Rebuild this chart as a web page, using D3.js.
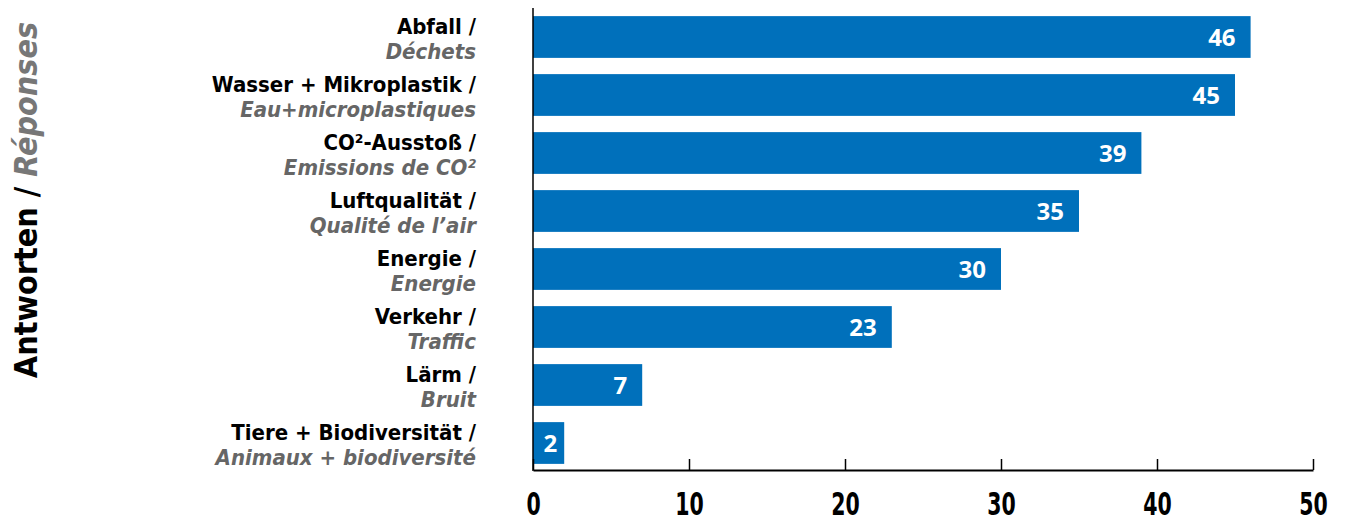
<!DOCTYPE html>
<html>
<head>
<meta charset="utf-8">
<script src="https://cdn.jsdelivr.net/npm/d3@7"></script>
<style>
  body { margin: 0; background: #fff; }
  svg { display: block; }
  .bold { font-family: "DejaVu Sans", sans-serif; font-weight: bold; }
  .cond { font-family: "DejaVu Sans Condensed", "DejaVu Sans", sans-serif; font-weight: bold; }
</style>
</head>
<body>
<svg id="chart" width="1345" height="523"></svg>
<script>
// Categories (German / French) and answer counts
const labelsDe = ["Abfall /", "Wasser + Mikroplastik /", "CO²-Ausstoß /", "Luftqualität /",
                  "Energie /", "Verkehr /", "Lärm /", "Tiere + Biodiversität /"];
const labelsFr = ["Déchets", "Eau+microplastiques", "Emissions de CO²", "Qualité de l’air",
                  "Energie", "Traffic", "Bruit", "Animaux + biodiversité"];
const answers = [46, 45, 39, 35, 30, 23, 7, 2];
const xTicks = [0, 10, 20, 30, 40, 50];

const svg = d3.select("#chart");
const blue = "#0070bb";

const x = d3.scaleLinear().domain([0, 50]).range([533, 1313]);
const y = d3.scaleBand()
    .domain(d3.range(answers.length))
    .range([8, 472])
    .paddingInner(0.28)
    .paddingOuter(0.14);

// Bars
svg.append("g").selectAll("rect")
    .data(answers)
    .join("rect")
    .attr("x", x(0))
    .attr("y", (d, i) => y(i))
    .attr("width", d => x(d) - x(0))
    .attr("height", y.bandwidth())
    .attr("fill", blue);

// Value labels inside bars
svg.append("g").selectAll("text")
    .data(answers)
    .join("text")
    .attr("x", d => x(d) - (d < 5 ? 7 : 15))
    .attr("y", (d, i) => y(i) + y.bandwidth() / 2 + 9)
    .attr("text-anchor", "end")
    .attr("fill", "#fff")
    .style("font-family", "'Open Sans', sans-serif")
    .style("font-weight", "bold")
    .style("font-size", "24px")
    .text(d => d);

// X axis
const xAxis = d3.axisBottom(x).tickValues(xTicks).tickSize(-11).tickSizeOuter(0);
const gx = svg.append("g")
    .attr("transform", "translate(0,470)")
    .call(xAxis);
gx.select(".domain").attr("stroke", "#000").attr("stroke-width", 2);
gx.selectAll(".tick line").attr("stroke", "#000").attr("stroke-width", 1.5);
gx.selectAll(".tick text")
    .attr("class", "bold")
    .attr("fill", "#000")
    .attr("y", 45)
    .attr("dy", 0)
    .attr("transform", "scale(0.64,1)")
    .style("font-size", "32px");

// Y axis line
svg.append("line")
    .attr("x1", x(0)).attr("x2", x(0))
    .attr("y1", 8).attr("y2", 471)
    .attr("stroke", "#000")
    .attr("stroke-width", 1.5);

// Category labels
const lab = svg.append("g").selectAll("g")
    .data(labelsDe)
    .join("g")
    .attr("transform", (d, i) => `translate(476,${y(i) + y.bandwidth() / 2})`);
lab.append("text")
    .attr("class", "cond")
    .attr("text-anchor", "end")
    .attr("y", -3)
    .attr("fill", "#000")
    .style("font-size", "22px")
    .text(d => d);
lab.append("text")
    .attr("class", "cond")
    .attr("text-anchor", "end")
    .attr("y", 22)
    .attr("fill", "#666")
    .style("font-size", "22px")
    .style("font-style", "italic")
    .text((d, i) => labelsFr[i]);

// Y title
const title = svg.append("text")
    .attr("class", "cond")
    .attr("transform", "translate(37,200) rotate(-90)")
    .attr("text-anchor", "middle")
    .style("font-size", "32px");
title.append("tspan").attr("fill", "#000").text("Antworten / ");
title.append("tspan").attr("fill", "#777").style("font-style", "italic").text("Réponses");
</script>
</body>
</html>
